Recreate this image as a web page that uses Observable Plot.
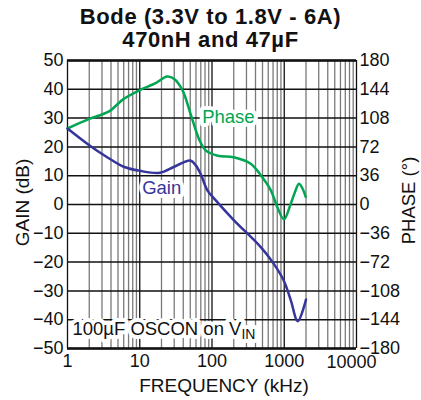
<!DOCTYPE html>
<html><head><meta charset="utf-8">
<script src="https://cdn.jsdelivr.net/npm/d3@7"></script>
<script src="https://cdn.jsdelivr.net/npm/@observablehq/plot@0.6"></script>
<style>
body{margin:0;background:#fff;width:421px;height:400px;overflow:hidden;font-family:Arial,"Liberation Sans",Helvetica,sans-serif;}
#title{height:52px;box-sizing:border-box;padding-top:5px;text-align:center;font-weight:bold;font-size:22px;line-height:23px;letter-spacing:0.6px;color:#111;}
#chart svg{display:block;}
</style></head><body>
<div id="title"><div>Bode (3.3V to 1.8V - 6A)</div><div>470nH and 47µF</div></div>
<div id="chart"></div>
<script>
// Gain curve (frequency kHz, dB)
const gainFreq = [1, 2, 3.5, 6, 10, 19, 30, 50, 60, 70, 86, 112, 200, 470, 690, 980, 1230, 1540, 2000];
const gainDb   = [26.4, 20.6, 16.5, 13.1, 11.7, 11.0, 13.1, 15.3, 13.5, 10.5, 5.0, 1.5, -5.4, -14.7, -20.0, -26.3, -33.2, -40.5, -33.0];
// Phase curve (frequency kHz, degrees)
const phaseFreq = [1, 2, 3.7, 6, 10, 16, 24, 30, 39, 51, 66, 81, 120, 200, 343, 470, 650, 800, 990, 1230, 1400, 1600, 1790, 1980];
const phaseDeg  = [95, 107, 116, 132, 143, 151, 160, 157, 143, 112, 82, 68, 61, 59, 51, 37, 18, -3, -18.5, 1, 15, 26, 20, 9.5];
// Axes
const decades = [1, 10, 100, 1000, 10000];
const minorTicks = [1, 10, 100, 1000].flatMap(d => [2, 3, 4, 5, 6, 7, 8, 9].map(m => m * d));
const gainTicks = [-50, -40, -30, -20, -10, 0, 10, 20, 30, 40, 50];
const phaseTicks = [-180, -144, -108, -72, -36, 0, 36, 72, 108, 144, 180];
const phasePerDb = 3.6;
// Annotations
const annoText = ["Phase", "Gain", "100µF OSCON on VIN"];
const annoFreq = [73, 10.8, 1.17];
const annoDb = [30.3, 5.7, -43.3];
const annoColor = ["#00a651", "#35359b", "#111"];

const blue = "#35359b", green = "#00a651";
const gain = gainFreq.map((f, i) => ({f, v: gainDb[i]}));
const phase = phaseFreq.map((f, i) => ({f, v: phaseDeg[i] / phasePerDb}));
const annos = annoText.map((t, i) => ({t, f: annoFreq[i], v: annoDb[i], c: annoColor[i]}));
const fmt = d3.format("d");

const plot = Plot.plot({
  width: 421, height: 348,
  marginTop: 8, marginBottom: 52, marginLeft: 67, marginRight: 65,
  x: {type: "log", domain: [1, 10000]},
  y: {domain: [-50, 50]},
  style: {fontFamily: "Arial, 'Liberation Sans', Helvetica, sans-serif", fontSize: "18px", color: "#111", background: "white", overflow: "visible"},
  marks: [
    Plot.ruleX(minorTicks, {stroke: "#7a7a7a", strokeWidth: 1.3}),
    Plot.ruleX(decades, {stroke: "#111", strokeWidth: 1.3}),
    Plot.ruleY(gainTicks, {stroke: "#111", strokeWidth: 1.5}),
    Plot.ruleY([gainTicks[0], gainTicks[gainTicks.length - 1]], {stroke: "#111", strokeWidth: 2.6}),
    Plot.line(phase, {x: "f", y: "v", stroke: green, strokeWidth: 2.5, curve: "catmull-rom"}),
    Plot.line(gain, {x: "f", y: "v", stroke: blue, strokeWidth: 2.5, curve: "catmull-rom"}),
    Plot.text(annos, {x: "f", y: "v", text: "t", fill: "c", textAnchor: "start", fontSize: 18.5, stroke: "white", strokeWidth: 8, strokeLinejoin: "round"}),
    Plot.axisX({ticks: decades.slice(0, 4), tickSize: 0, tickPadding: 6, tickFormat: fmt, fontSize: 18, label: null}),
    Plot.axisX({ticks: decades.slice(4), tickSize: 0, tickPadding: 7, tickFormat: fmt, fontSize: 18, dx: -5, label: null}),
    Plot.axisY({ticks: gainTicks, tickSize: 0, tickPadding: 4, tickFormat: fmt, fontSize: 18, label: null}),
    Plot.axisY({anchor: "right", ticks: phaseTicks.map(p => p / phasePerDb), tickSize: 0, tickPadding: 3, tickFormat: d => fmt(Math.round(d * phasePerDb)), fontSize: 18, label: null}),
    Plot.text(["FREQUENCY (kHz)"], {text: d => d, frameAnchor: "bottom", lineAnchor: "middle", dx: 12, dy: 37, fontSize: 19}),
    Plot.text(["GAIN (dB)"], {text: d => d, frameAnchor: "left", textAnchor: "middle", lineAnchor: "middle", rotate: -90, dx: -45, dy: -2, fontSize: 19}),
    Plot.text(["PHASE (°)"], {text: d => d, frameAnchor: "right", textAnchor: "middle", lineAnchor: "middle", rotate: -90, dx: 53, dy: -4, fontSize: 18.5})
  ]
});
document.getElementById("chart").appendChild(plot);
// subscript for V_IN
d3.select(plot).selectAll("text").filter(function() { return this.textContent === "100µF OSCON on VIN"; })
  .each(function() {
    this.textContent = "100µF OSCON on V";
    const ts = document.createElementNS("http://www.w3.org/2000/svg", "tspan");
    ts.setAttribute("dy", "4");
    ts.setAttribute("font-size", "14");
    ts.textContent = "IN";
    this.appendChild(ts);
  });
</script>
</body></html>
